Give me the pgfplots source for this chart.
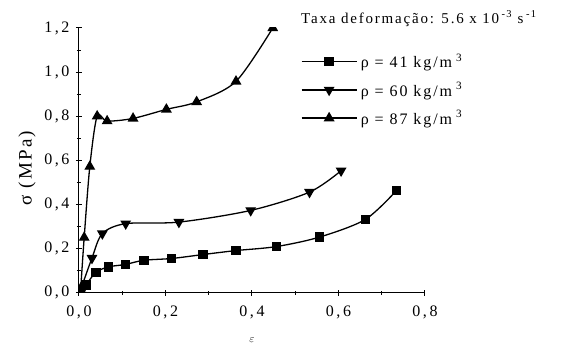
\documentclass[border=0pt]{standalone}
\usepackage{fontspec}
\setmainfont{Liberation Serif}
\newfontfamily\lsfont{Liberation Serif}[LetterSpace=12]
\newfontfamily\tickfont{Liberation Serif}[LetterSpace=16]
\usepackage{pgfplots}
\pgfplotsset{compat=1.18}

\begin{document}
\begin{tikzpicture}
\path[use as bounding box] (-79pt,-54.3pt) rectangle (492pt,292.7pt);
\begin{axis}[
  at={(0,0)}, anchor=origin,
  scale only axis,
  width=346pt, height=264.7pt,
  xmin=0, xmax=0.8, ymin=0, ymax=1.2,
  axis x line=bottom, axis y line=left,
  axis line style={-, line width=1pt},
  xtick={0,0.2,...,0.8}, ytick={0,0.2,...,1.2},
  minor tick num=1,
  tick align=center,
  major tick length=6pt, minor tick length=4pt,
  tick style={line width=1pt, black},
  /pgf/number format/assume math mode=true,
  /pgf/number format/use comma,
  /pgf/number format/fixed,
  /pgf/number format/fixed zerofill,
  /pgf/number format/precision=1,
  ticklabel style={font=\fontsize{16}{16}\tickfont},
  xticklabel style={yshift=-7pt},
  yticklabel style={xshift=-3pt},
  xlabel={$\varepsilon$},
  xlabel style={at={(axis description cs:0.5,-0.178)}, anchor=center, font=\fontsize{11}{11}\selectfont},
  ylabel={σ (MPa)},
  ylabel style={at={(axis description cs:-0.15,0.47)}, anchor=center, font=\fontsize{19}{19}\lsfont},
  clip=true, clip mode=individual, clip marker paths=true,
  every axis plot/.append style={line width=1.3pt, black, smooth, tension=0.5},
  legend image code/.code={\draw[mark repeat=2, mark phase=2] plot coordinates {(0pt,0pt) (27.5pt,0pt) (55pt,0pt)};},
  legend cell align=left,
  legend style={draw=none, fill=none, inner sep=0pt,
    at={(rel axis cs:0.641,0.766)}, anchor=west,
    font=\fontsize{16}{16}\lsfont,
    row sep=10pt,
    nodes={inner sep=1.5pt},
    /tikz/every odd column/.append style={column sep=2pt}},
]
% rho = 41 kg/m^3
\addplot[mark=square*, mark size=4pt] coordinates {
  (0.004,0.010) (0.016,0.035) (0.039,0.092) (0.068,0.117) (0.107,0.128)
  (0.150,0.147) (0.214,0.155) (0.287,0.173) (0.363,0.191) (0.456,0.209)
  (0.556,0.252) (0.662,0.332) (0.734,0.463)
};
\addlegendentry{ρ = 41 kg/m\hspace{4pt}\textsuperscript{3}}
% rho = 60 kg/m^3
\addplot[mark=triangle*, mark options={rotate=180}, mark size=5pt] coordinates {
  (0.005,0.020) (0.030,0.157) (0.054,0.268) (0.108,0.313) (0.231,0.320)
  (0.397,0.373) (0.533,0.456) (0.606,0.553)
};
\addlegendentry{ρ = 60 kg/m\hspace{4pt}\textsuperscript{3}}
% rho = 87 kg/m^3; the last mark sits on the top edge and is cut by it
\addplot[mark=triangle*, mark size=5pt] coordinates {
  (0.004,0.020) (0.012,0.250) (0.025,0.572) (0.042,0.800) (0.065,0.778)
  (0.125,0.790) (0.202,0.831) (0.272,0.865) (0.363,0.958) (0.448,1.200)
};
\addlegendentry{ρ = 87 kg/m\hspace{4pt}\textsuperscript{3}}
\end{axis}
\node[anchor=west, inner sep=0pt, font=\fontsize{15}{15}\lsfont] at (222pt,274pt)
  {Taxa deformação: 5.6 x 10\,\textsuperscript{-3} s\,\textsuperscript{-1}};
\end{tikzpicture}
\end{document}
